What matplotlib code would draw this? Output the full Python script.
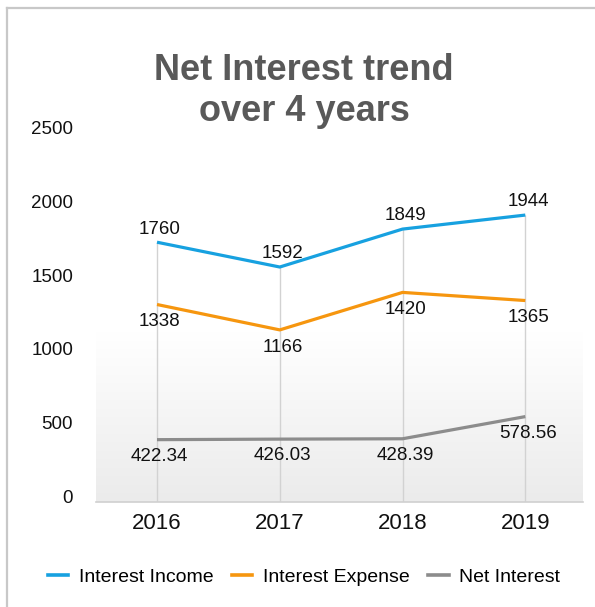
import matplotlib
matplotlib.use("Agg")
import matplotlib.pyplot as plt
import matplotlib.transforms as mtransforms
from matplotlib.lines import Line2D
from matplotlib import font_manager
import numpy as np

years = ["2016", "2017", "2018", "2019"]
interest_income = [1760, 1592, 1849, 1944]
interest_expense = [1338, 1166, 1420, 1365]
net_interest = [422.34, 426.03, 428.39, 578.56]
income_labels = ["1760", "1592", "1849", "1944"]
expense_labels = ["1338", "1166", "1420", "1365"]
net_labels = ["422.34", "426.03", "428.39", "578.56"]
y_ticks = [0, 500, 1000, 1500, 2000, 2500]

BLUE = "#17a1e0"
ORANGE = "#f6960f"
GREY = "#8c8c8c"
TXT = "#111111"

names = {f.name for f in font_manager.fontManager.ttflist}
FONT = "Liberation Sans" if "Liberation Sans" in names else "DejaVu Sans"
plt.rcParams["font.family"] = FONT

fig = plt.figure(figsize=(5.95, 6.07), dpi=100)
ax = fig.add_axes([96 / 595, 105 / 607, 487 / 595, 369 / 607])
x = np.arange(len(years))
ax.set_xlim(-0.497, 3.47)
ax.set_ylim(0, 2500)

# soft grey fade at the bottom of the plot area (white on top, grey at the axis)
grad = np.linspace(0.0, 1.0, 256).reshape(-1, 1)
cmap = matplotlib.colors.LinearSegmentedColormap.from_list("fade", ["#ffffff", "#ebebeb"])
ax.imshow(grad, cmap=cmap, extent=[0, 1, 0, 0.46], transform=ax.transAxes,
          aspect="auto", zorder=0, vmin=0, vmax=1, origin="upper")

# drop lines from the top series down to the axis
tops = [max(a, b, c) for a, b, c in zip(interest_income, interest_expense, net_interest)]
ax.vlines(x, 0, tops, color="#d2d2d2", lw=1.0, zorder=1)

ax.plot(x, interest_income, color=BLUE, lw=2.3, zorder=3, solid_capstyle="butt")
ax.plot(x, interest_expense, color=ORANGE, lw=2.3, zorder=3, solid_capstyle="butt")
ax.plot(x, net_interest, color=GREY, lw=2.3, zorder=3, solid_capstyle="butt")

for xi, v, s in zip(x, interest_income, income_labels):
    ax.annotate(s, (xi, v), xytext=(2, 9.5), textcoords="offset points",
                ha="center", va="center", fontsize=13.5, color=TXT)
for xi, v, s in zip(x, interest_expense, expense_labels):
    ax.annotate(s, (xi, v), xytext=(2, -12.5), textcoords="offset points",
                ha="center", va="center", fontsize=13.5, color=TXT)
for xi, v, s in zip(x, net_interest, net_labels):
    ax.annotate(s, (xi, v), xytext=(2, -12), textcoords="offset points",
                ha="center", va="center", fontsize=13.5, color=TXT)

for side in ["left", "right", "top"]:
    ax.spines[side].set_visible(False)
ax.spines["bottom"].set_color("#d0d0d0")
ax.spines["bottom"].set_linewidth(1.2)
ax.set_facecolor("none")

ax.set_xticks(x)
ax.set_xticklabels(years, fontsize=16, color=TXT)
ax.set_yticks(y_ticks)
ax.set_yticklabels([str(t) for t in y_ticks], fontsize=13.5, color=TXT)
ax.tick_params(axis="x", length=0, pad=8)
ax.tick_params(axis="y", length=0, pad=16.5)
shift = mtransforms.ScaledTranslation(0, 4 / 72, fig.dpi_scale_trans)
for lbl in ax.get_yticklabels():
    lbl.set_transform(lbl.get_transform() + shift)

fig.text(304 / 595, 1 - 91 / 607, "Net Interest trend\nover 4 years", ha="center", va="center",
         fontsize=26, fontweight="bold", color="#595959", linespacing=1.22)

handles = [Line2D([], [], color=c, lw=2.6) for c in (BLUE, ORANGE, GREY)]
fig.legend(handles, ["Interest Income", "Interest Expense", "Net Interest"],
           loc="center", bbox_to_anchor=(304 / 595, 30 / 607), ncol=3, frameon=False,
           handlelength=1.05, handletextpad=0.55, columnspacing=0.95,
           prop={"family": FONT, "size": 14})

# outer frame along the top and left edges
fig.add_artist(Line2D([6.5 / 595, 1], [1 - 7.5 / 607, 1 - 7.5 / 607], color="#c8c8c8", lw=1.6,
                      transform=fig.transFigure))
fig.add_artist(Line2D([6.5 / 595, 6.5 / 595], [0, 1 - 7.5 / 607], color="#c8c8c8", lw=1.6,
                      transform=fig.transFigure))

fig.savefig("out.png", dpi=100, facecolor="white")
